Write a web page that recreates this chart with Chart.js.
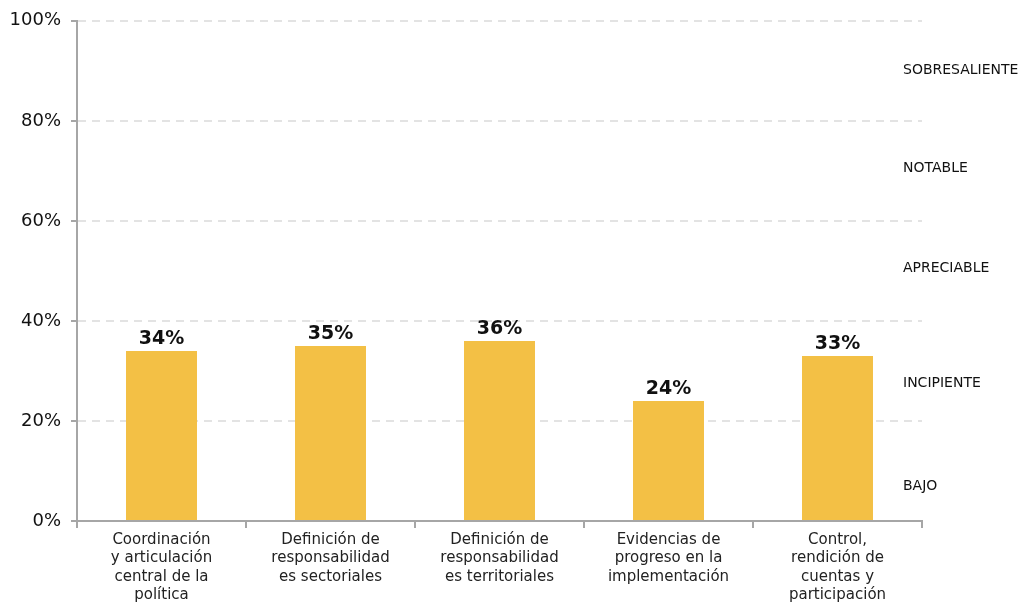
<!DOCTYPE html>
<html>
<head>
<meta charset="utf-8">
<script src="https://cdn.jsdelivr.net/npm/chart.js@4.4.1/dist/chart.umd.min.js"></script>
<style>
  html, body { margin: 0; padding: 0; background: #fff; }
  #wrap { width: 1028px; height: 602px; position: relative; }
</style>
</head>
<body>
<div id="wrap"><canvas id="chart" width="1028" height="602"></canvas></div>
<script>
// Categories (multi-line labels)
const categories = [
  ["Coordinación", "y articulación", "central de la", "política"],
  ["Definición de", "responsabilidad", "es sectoriales"],
  ["Definición de", "responsabilidad", "es territoriales"],
  ["Evidencias de", "progreso en la", "implementación"],
  ["Control,", "rendición de", "cuentas y", "participación"]
];
// Score per dimension (%)
const values = [34, 35, 36, 24, 33];
// Y axis ticks
const yTicks = [0, 20, 40, 60, 80, 100];
// Level bands shown on the right, with the y value where each name sits
const levelNames = ["SOBRESALIENTE", "NOTABLE", "APRECIABLE", "INCIPIENTE", "BAJO"];
const levelPositions = [90, 70.5, 50.5, 27.5, 7];

const FONT = "'DejaVu Sans', sans-serif";

const valueLabels = {
  id: 'valueLabels',
  afterDatasetsDraw(chart) {
    const ctx = chart.ctx;
    const meta = chart.getDatasetMeta(0);
    ctx.save();
    ctx.font = "bold 19px " + FONT;
    ctx.fillStyle = "#111";
    ctx.textAlign = "center";
    ctx.textBaseline = "bottom";
    meta.data.forEach((bar, i) => {
      ctx.fillText(values[i] + "%", bar.x, bar.y - 2);
    });
    ctx.restore();
  }
};

const levelLabels = {
  id: 'levelLabels',
  afterDraw(chart) {
    const ctx = chart.ctx;
    const y = chart.scales.y;
    ctx.save();
    ctx.font = "14px " + FONT;
    ctx.fillStyle = "#111";
    ctx.textAlign = "left";
    ctx.textBaseline = "middle";
    levelNames.forEach((name, i) => {
      ctx.fillText(name, chart.chartArea.right - 19, y.getPixelForValue(levelPositions[i]));
    });
    ctx.restore();
  }
};

new Chart(document.getElementById('chart'), {
  type: 'bar',
  data: {
    labels: categories,
    datasets: [{
      data: values,
      backgroundColor: '#F3C045',
      categoryPercentage: 0.84,
      barPercentage: 0.5
    }]
  },
  options: {
    responsive: false,
    animation: false,
    layout: { padding: { top: 15, right: 106, left: 0, bottom: 0 } },
    plugins: { legend: { display: false }, tooltip: { enabled: false } },
    scales: {
      x: {
        offset: true,
        grid: {
          offset: true,
          drawOnChartArea: false,
          drawTicks: true,
          tickLength: 7,
          color: '#a6a6a6',
          lineWidth: 2
        },
        border: { display: true, color: '#a6a6a6', width: 2 },
        ticks: {
          color: '#222',
          font: { family: FONT, size: 15, lineHeight: 1.22 },
          padding: 3,
          maxRotation: 0,
          autoSkip: false
        },
        afterFit(scale) { scale.height = 602 - 521; }
      },
      y: {
        min: 0,
        max: 100,
        afterBuildTicks(scale) { scale.ticks = yTicks.map(v => ({ value: v })); },
        grid: {
          color: ctx => ctx.tick && ctx.tick.value === 0 ? 'rgba(0,0,0,0)' : '#e3e3e3',
          lineWidth: 2,
          tickColor: '#a6a6a6',
          tickLength: 6,
          tickBorderDash: [],
          drawTicks: true
        },
        border: { display: true, color: '#a6a6a6', width: 2, dash: [8, 6] },
        ticks: {
          color: '#111',
          font: { family: FONT, size: 18 },
          padding: 10,
          callback: v => v + '%'
        },
        afterFit(scale) { scale.width = 77; }
      }
    }
  },
  plugins: [valueLabels, levelLabels]
});
</script>
</body>
</html>
